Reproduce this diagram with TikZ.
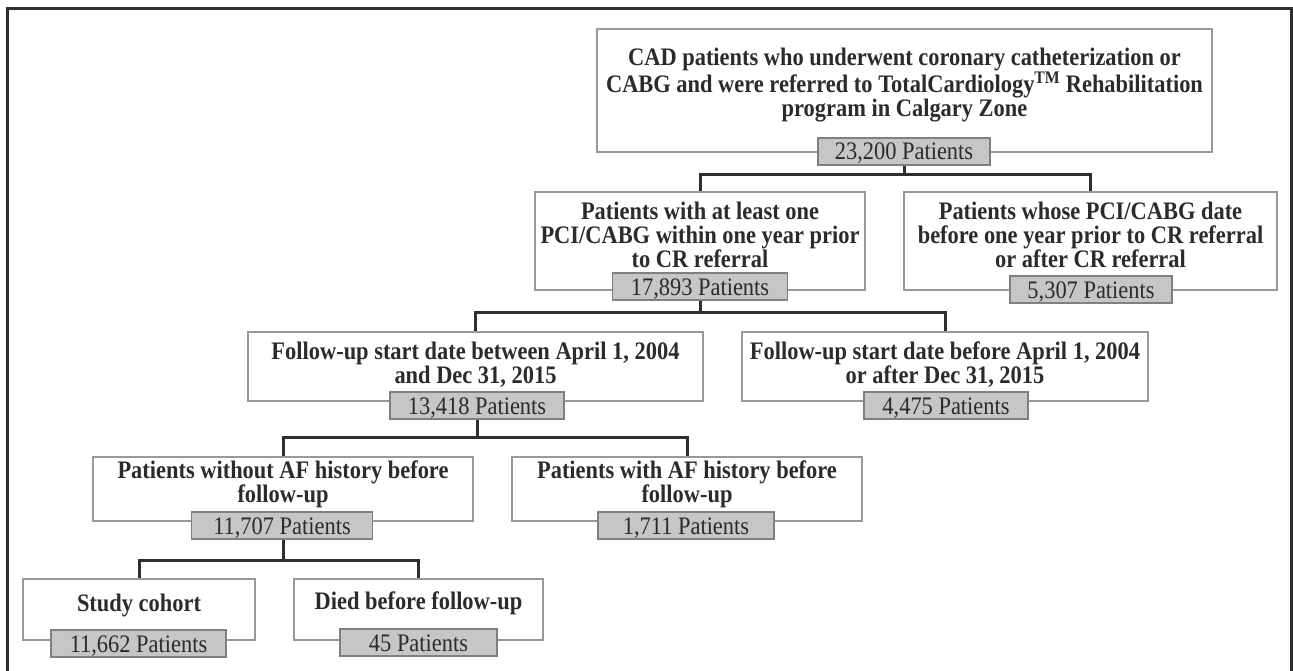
\documentclass[tikz,border=0pt]{standalone}
\usepackage{fontspec}
\setmainfont{Liberation Serif}[FakeStretch=0.89]
\usetikzlibrary{calc}
\definecolor{txt}{HTML}{2B2B2B}
\definecolor{boxline}{HTML}{999999}
\definecolor{cntline}{HTML}{808080}
\definecolor{cntfill}{HTML}{C6C6C6}
\definecolor{connc}{HTML}{2E2E2E}
\definecolor{framec}{HTML}{2E2E2E}
\begin{document}
\begin{tikzpicture}[x=1pt,y=-1pt,
  box/.style={draw=boxline, line width=1.5pt, fill=white, inner sep=0pt},
  cnt/.style={draw=cntline, fill=cntfill, line width=1.3pt, inner sep=0pt,
    minimum height=27pt, text height=17pt, text depth=0pt,
    font=\fontsize{25.2}{26}\selectfont, text=txt},
  btxt/.style={align=center, inner sep=0pt, anchor=north,
    font=\bfseries\fontsize{25.2}{23.8}\selectfont, text=txt},
  conn/.style={draw=connc, line width=3pt},
  frameline/.style={draw=framec, line width=3pt}
]
\useasboundingbox (0,0) rectangle (1293,671);
\draw[frameline] (7,680) -- (7,9) -- (1291,9) -- (1291,680);

% boxes
\node[box, minimum width=615pt, minimum height=123pt] (b1) at (904.5,90.5) {};
\node[box, minimum width=330pt, minimum height=98pt] (b2) at (700,241) {};
\node[box, minimum width=373pt, minimum height=98pt] (b3) at (1090.5,241) {};
\node[box, minimum width=455pt, minimum height=69pt] (b4) at (475.5,366.5) {};
\node[box, minimum width=406pt, minimum height=69pt] (b5) at (945,366.5) {};
\node[box, minimum width=380pt, minimum height=64pt] (b6) at (283,489) {};
\node[box, minimum width=350pt, minimum height=64pt] (b7) at (687,489) {};
\node[box, minimum width=232pt, minimum height=61pt] (b8) at (139,609.5) {};
\node[box, minimum width=249pt, minimum height=61pt] (b9) at (418.5,609.5) {};

% box texts
\newcommand\tstrut{\rule{0pt}{18pt}}
\node[btxt] (t1) at ($(b1.north)+(0,19)$) {\tstrut CAD patients who underwent coronary catheterization or\\CABG and were referred to TotalCardiology\textsuperscript{TM} Rehabilitation\\program in Calgary Zone};
\node[btxt] (t2) at ($(b2.north)+(0,10)$) {\tstrut Patients with at least one\\PCI/CABG within one year prior\\to CR referral};
\node[btxt] (t3) at ($(b3.north)+(0,10)$) {\tstrut Patients whose PCI/CABG date\\before one year prior to CR referral\\or after CR referral};
\node[btxt] (t4) at ($(b4.north)+(0,10)$) {\tstrut Follow-up start date between April 1, 2004\\and Dec 31, 2015};
\node[btxt] (t5) at ($(b5.north)+(0,10)$) {\tstrut Follow-up start date before April 1, 2004\\or after Dec 31, 2015};
\node[btxt] (t6) at ($(b6.north)+(0,4)$) {\tstrut Patients without AF history before\\follow-up};
\node[btxt] (t7) at ($(b7.north)+(0,4)$) {\tstrut Patients with AF history before\\follow-up};
\node[btxt] (t8) at ($(b8.north)+(0,15)$) {\tstrut Study cohort};
\node[btxt] (t9) at ($(b9.north)+(0,13)$) {\tstrut Died before follow-up};

% junctions
\coordinate (j1) at (904,175);
\coordinate (j2) at (700,312);
\coordinate (j3) at (477,437);
\coordinate (j4) at (283,560);

% count nodes
\node[cnt, minimum width=172pt] (c1) at (904,151.5) {23,200 Patients};
\node[cnt, minimum width=175pt] (c2) at (700,286.5) {17,893 Patients};
\node[cnt, minimum width=162pt] (c3) at (1091,289.5) {5,307 Patients};
\node[cnt, minimum width=174pt] (c4) at (477,405.5) {13,418 Patients};
\node[cnt, minimum width=164pt] (c5) at (946,405.5) {4,475 Patients};
\node[cnt, minimum width=181pt] (c6) at (282,525.5) {11,707 Patients};
\node[cnt, minimum width=176pt] (c7) at (686,525.5) {1,711 Patients};
\node[cnt, minimum width=175pt] (c8) at (138.5,643.5) {11,662 Patients};
\node[cnt, minimum width=157pt] (c9) at (418.5,642.5) {45 Patients};

% connectors
\draw[conn] (c1.south) -- (j1);
\draw[conn] (b2.north) |- (j1) -| (b3.north);
\draw[conn] (c2.south) -- (j2);
\draw[conn] (b4.north) |- (j2) -| (b5.north);
\draw[conn] (c4.south) -- (j3);
\draw[conn] (b6.north) |- (j3) -| (b7.north);
\draw[conn] (c6.south -| j4) -- (j4);
\draw[conn] (b8.north) |- (j4) -| (b9.north);
\end{tikzpicture}
\end{document}
